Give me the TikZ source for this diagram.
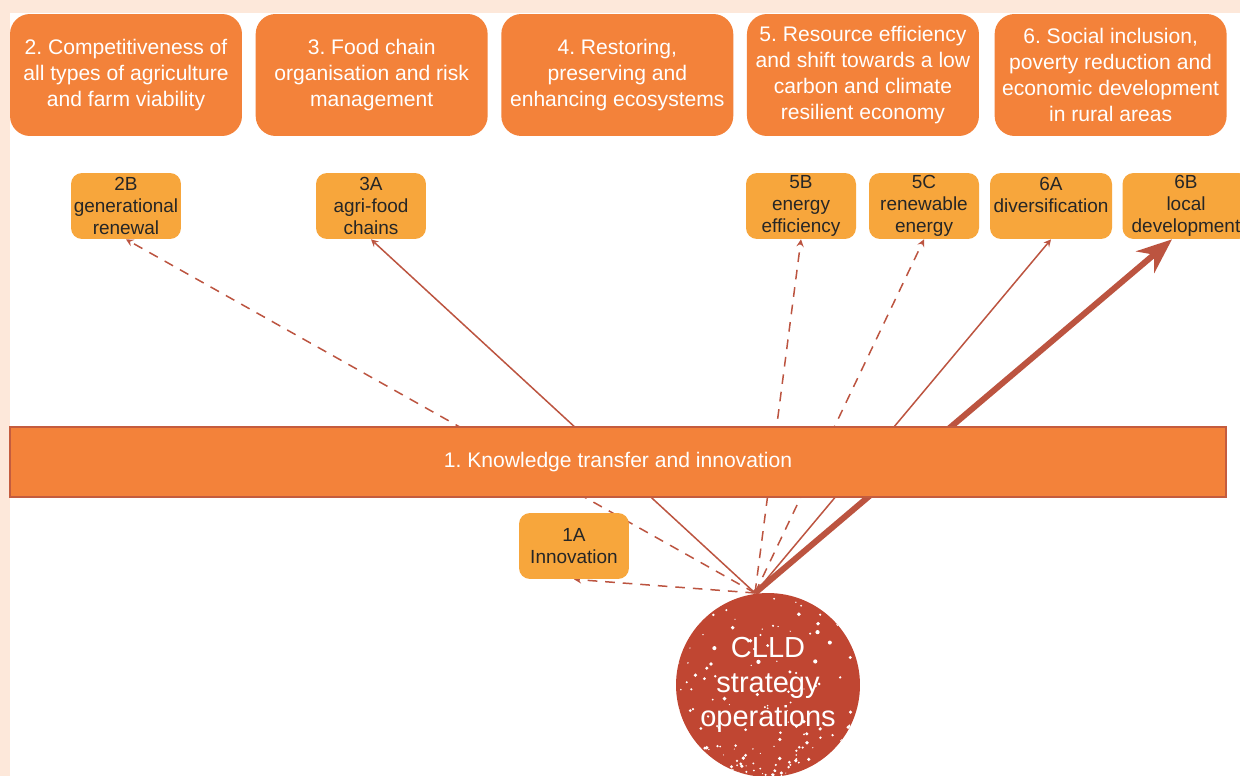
\documentclass[tikz,border=0pt]{standalone}
\usepackage{xcolor}
\usepackage{fontspec}
\setmainfont{Liberation Sans}
\usepackage{tikz}
\usetikzlibrary{shapes.geometric, arrows, arrows.meta, positioning, backgrounds, calc}
\frenchspacing
\definecolor{prioorange}{RGB}{243,130,58}
\definecolor{focusorange}{RGB}{247,166,60}
\definecolor{linkred}{RGB}{188,84,64}
\definecolor{clldred}{RGB}{192,70,50}
\definecolor{pagepeach}{RGB}{253,232,218}
\definecolor{bartrim}{RGB}{196,92,62}
\definecolor{darktext}{RGB}{38,38,38}
\tikzstyle{priority} = [rectangle, rounded corners=0.4cm, minimum width=4.64cm, minimum height=2.44cm, inner xsep=2pt, align=center, fill=prioorange, text=white, font=\fontsize{12}{14.8}\selectfont]
\tikzstyle{focus} = [rectangle, rounded corners=0.22cm, minimum width=2.2cm, minimum height=1.32cm, inner sep=1pt, align=center, fill=focusorange, text=darktext, font=\fontsize{10.8}{12.5}\selectfont]
\tikzstyle{link} = [->, >=stealth, draw=linkred, line width=0.85pt]
\tikzstyle{dashlink} = [link, dash pattern=on 5.5pt off 4.5pt]
\tikzstyle{bigarrow} = [draw=linkred, line width=3.4pt, -{Stealth[length=0.7cm, width=0.56cm]}]

\begin{document}
\begin{tikzpicture}[x=0.02cm, y=-0.02cm]
    \useasboundingbox (0,0) rectangle (1240,776);
    \begin{scope}[on background layer]
        \fill[pagepeach] (0,0) rectangle (1240,776);
        \fill[white] (10,13) rectangle (1240,776);
    \end{scope}

    % Priorities
    \node (p2) [priority] at (126,75) {2. Competitiveness of\\all types of agriculture\\and farm viability};
    \node (p3) [priority, right=0.26cm of p2] {3. Food chain\\organisation and risk\\management};
    \node (p4) [priority, right=0.26cm of p3] {4. Restoring,\\preserving and\\enhancing ecosystems};
    \node (p5) [priority, right=0.26cm of p4] {5. Resource efficiency\\and shift towards a low\\carbon and climate\\resilient economy};
    \node (p6) [priority, right=0.3cm of p5] {6. Social inclusion,\\poverty reduction and\\economic development\\in rural areas};

    % Focus areas
    \node (b2B) [focus] at (126,206) {2B\\generational\\renewal};
    \node (b3A) [focus] at (371,206) {3A\\agri-food\\chains};
    \node (b5B) [focus] at (801,206) {5B\\energy\\efficiency};
    \node (b5C) [focus] at (924,206) {5C\\renewable\\energy};
    \node (b6A) [focus, minimum width=2.44cm] at (1051,206) {6A\\diversification\\~};
    \node (b6B) [focus, minimum width=2.54cm] at (1186,206) {6B\\local\\development};

    % Priority 1
    \node (kt) [rectangle, draw=bartrim, line width=1pt, fill=prioorange, minimum width=24.32cm, minimum height=1.4cm, text=white, font=\fontsize{12}{14.8}\selectfont] at (618,462) {1. Knowledge transfer and innovation};
    \node (b1A) [focus] at (574,546) {1A\\Innovation};

    % CLLD
    \node (clld) [circle, fill=clldred, minimum size=3.68cm, inner sep=0pt, align=center, text=white, font=\fontsize{16.5}{19.5}\selectfont] at (768,685) {CLLD\\strategy\\operations};
    \begin{scope}
        \clip (clld.center) circle (1.84cm);
        \pgfmathsetseed{42}
        \foreach \k in {1,...,70} {
            \pgfmathsetmacro{\dx}{92*rand}
            \pgfmathsetmacro{\dy}{92*rand}
            \pgfmathsetmacro{\ds}{0.3+0.9*rnd}
            \fill[white] ($(clld.center)+(\dx,\dy)$) circle (\ds pt);
        }
        \foreach \k in {1,...,110} {
            \pgfmathsetmacro{\dx}{92*rand}
            \pgfmathsetmacro{\dy}{92*(1-1.2*rnd*rnd)}
            \pgfmathsetmacro{\ds}{0.3+0.8*rnd}
            \fill[white] ($(clld.center)+(\dx,\dy)$) circle (\ds pt);
        }
    \end{scope}

    % Links
    \coordinate (src) at (755,593);
    \begin{scope}[on background layer]
        \draw[dashlink] (src) -- (b2B.south);
        \draw[link] (src) -- (b3A.south);
        \draw[dashlink] (src) -- (b5B.south);
        \draw[dashlink] (src) -- (b5C.south);
        \draw[link] (src) -- (b6A.south);
        \draw[dashlink] (src) -- (b1A.south);
        \draw[bigarrow] (src) -- ([xshift=-0.28cm]b6B.south);
    \end{scope}
\end{tikzpicture}
\end{document}
